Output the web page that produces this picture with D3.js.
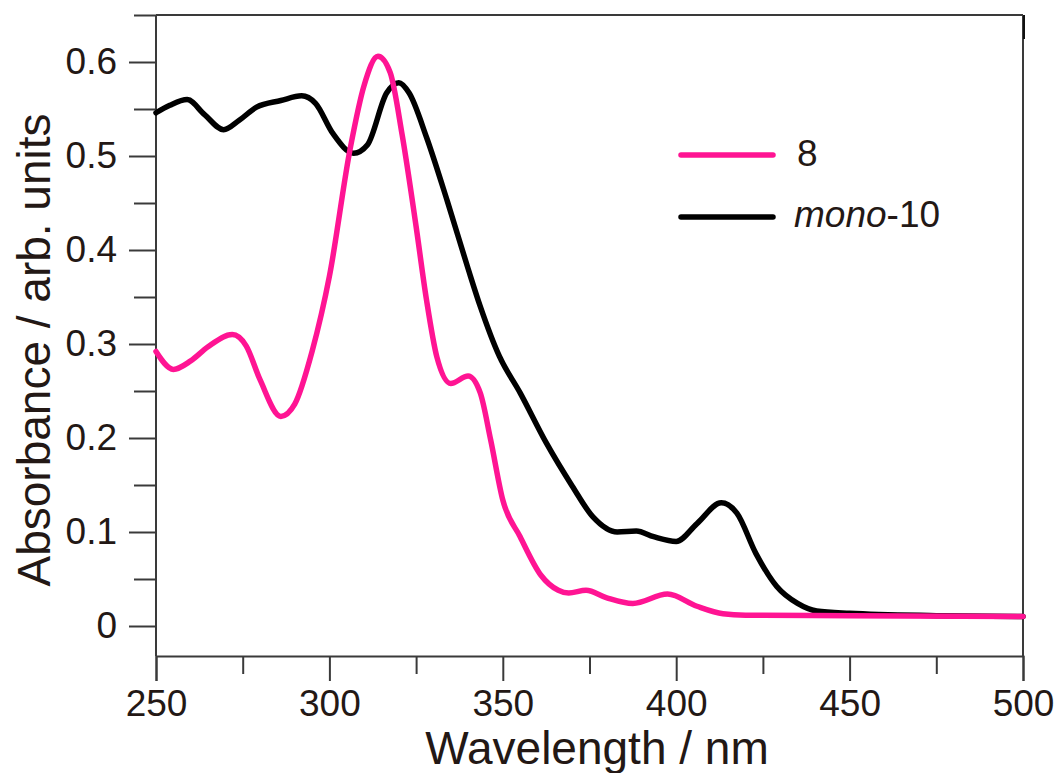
<!DOCTYPE html>
<html>
<head>
<meta charset="utf-8">
<script src="https://cdn.jsdelivr.net/npm/d3@7"></script>
<style>
  html, body { margin: 0; padding: 0; background: #fff; }
  svg { display: block; }
  text { font-family: "Liberation Sans", Arial, sans-serif; fill: #231815; }
</style>
</head>
<body>
<svg id="chart" width="1062" height="773"></svg>
<script>
// ---- Data ----
const seriesNames = ["8", "mono-10"];
const seriesColors = ["#ff1493", "#000000"];

const wl8 = [250, 255, 260, 265, 272, 276, 280, 286, 290, 295, 300, 306, 310, 314, 317.5, 321, 325, 328, 331, 335, 340, 343.5, 346.5, 350, 355, 361, 366, 369, 374, 380, 387.5, 397.5, 406, 413.5, 420, 450, 500];
const abs8 = [0.292, 0.273, 0.282, 0.297, 0.310, 0.298, 0.262, 0.223, 0.236, 0.292, 0.372, 0.508, 0.575, 0.606, 0.589, 0.522, 0.425, 0.347, 0.286, 0.258, 0.266, 0.248, 0.198, 0.134, 0.095, 0.054, 0.038, 0.035, 0.038, 0.030, 0.024, 0.034, 0.021, 0.013, 0.0115, 0.011, 0.010];

const wlMono = [250, 254, 259, 264, 269.5, 274, 279, 286, 292, 296, 301, 307, 311, 316.5, 320, 323, 328, 334, 340, 343.5, 349, 355, 362.5, 370, 376, 383, 388.5, 393.5, 400, 406, 413, 417.5, 423, 429, 435, 440.5, 450, 475, 500];
const absMono = [0.546, 0.554, 0.560, 0.544, 0.528, 0.538, 0.552, 0.559, 0.564, 0.556, 0.524, 0.503, 0.512, 0.567, 0.578, 0.567, 0.520, 0.452, 0.380, 0.340, 0.287, 0.248, 0.195, 0.149, 0.116, 0.100, 0.101, 0.095, 0.090, 0.109, 0.131, 0.120, 0.077, 0.042, 0.024, 0.016, 0.0135, 0.011, 0.010];

const xMajorTicks = [250, 300, 350, 400, 450, 500];
const xMinorTicks = [275, 325, 375, 425, 475];
const yMajorTicks = [0, 0.1, 0.2, 0.3, 0.4, 0.5, 0.6];
const yMinorTicks = [0.05, 0.15, 0.25, 0.35, 0.45, 0.55, 0.65];
const xTitle = "Wavelength / nm";
const yTitle = "Absorbance / arb. units";

(function () {
// ---- Layout ----
const svg = d3.select("#chart");
const pL = 156, pR = 1023, pT = 15, pB = 656;
const axisColor = "#3a3a3a";

const x = d3.scaleLinear().domain([250, 500]).range([pL, pR]);
const y = d3.scaleLinear().domain([0, 0.6]).range([626, 62]);

// frame (top + right)
svg.append("line").attr("x1", pL).attr("x2", pR).attr("y1", pT).attr("y2", pT)
  .attr("stroke", axisColor).attr("stroke-width", 2);
svg.append("line").attr("x1", pR).attr("x2", pR).attr("y1", pT).attr("y2", pB)
  .attr("stroke", axisColor).attr("stroke-width", 2);
svg.append("line").attr("x1", pR + 1).attr("x2", pR + 1).attr("y1", pT).attr("y2", pT + 24)
  .attr("stroke", "#111").attr("stroke-width", 2);

// bottom axis
const xAxis = d3.axisBottom(x).tickValues(xMajorTicks).tickSize(25).tickPadding(9)
  .tickFormat(d3.format("d"));
const gx = svg.append("g").attr("transform", `translate(0,${pB})`).call(xAxis);
gx.select(".domain").attr("stroke", axisColor).attr("stroke-width", 2);
gx.selectAll(".tick line").attr("stroke", axisColor).attr("stroke-width", 2);
gx.selectAll(".tick text").attr("font-size", 37).attr("font-family", "Liberation Sans, Arial, sans-serif").attr("fill", "#231815");
const xAxisMinor = d3.axisBottom(x).tickValues(xMinorTicks).tickSize(18).tickFormat("");
const gxm = svg.append("g").attr("transform", `translate(0,${pB})`).call(xAxisMinor);
gxm.select(".domain").remove();
gxm.selectAll(".tick line").attr("stroke", axisColor).attr("stroke-width", 2);

// left axis
const yAxis = d3.axisLeft(y).tickValues(yMajorTicks).tickSize(27).tickPadding(12)
  .tickFormat(d => d === 0 ? "0" : d3.format(".1f")(d));
const gy = svg.append("g").attr("transform", `translate(${pL},0)`).call(yAxis);
gy.select(".domain").remove();
gy.selectAll(".tick line").attr("stroke", axisColor).attr("stroke-width", 2);
gy.selectAll(".tick text").attr("font-size", 37).attr("font-family", "Liberation Sans, Arial, sans-serif").attr("fill", "#231815");
const yAxisMinor = d3.axisLeft(y).tickValues(yMinorTicks).tickSize(22).tickFormat("");
const gym = svg.append("g").attr("transform", `translate(${pL},0)`).call(yAxisMinor);
gym.select(".domain").remove();
gym.selectAll(".tick line").attr("stroke", axisColor).attr("stroke-width", 2);
svg.append("line").attr("x1", pL).attr("x2", pL).attr("y1", pT).attr("y2", pB)
  .attr("stroke", axisColor).attr("stroke-width", 2);

// curves
const line = d3.line().x(d => x(d[0])).y(d => y(d[1])).curve(d3.curveMonotoneX);
const data8 = wl8.map((w, i) => [w, abs8[i]]);
const dataMono = wlMono.map((w, i) => [w, absMono[i]]);

svg.append("path").datum(dataMono).attr("d", line)
  .attr("fill", "none").attr("stroke", seriesColors[1]).attr("stroke-width", 5.5)
  .attr("stroke-linecap", "round").attr("stroke-linejoin", "round");
svg.append("path").datum(data8).attr("d", line)
  .attr("fill", "none").attr("stroke", seriesColors[0]).attr("stroke-width", 5.5)
  .attr("stroke-linecap", "round").attr("stroke-linejoin", "round");

// legend
const legendY = [155, 217];
seriesNames.forEach((name, i) => {
  svg.append("line").attr("x1", 681).attr("x2", 773).attr("y1", legendY[i]).attr("y2", legendY[i])
    .attr("stroke", seriesColors[i]).attr("stroke-width", 5.5).attr("stroke-linecap", "round");
});
svg.append("text").attr("x", 797).attr("y", 166).attr("font-size", 37).text(seriesNames[0]);
const t2 = svg.append("text").attr("x", 794).attr("y", 227).attr("font-size", 37);
t2.append("tspan").attr("font-style", "italic").text("mono");
t2.append("tspan").text("-10");

// axis titles
svg.append("text").attr("x", 597).attr("y", 764).attr("text-anchor", "middle")
  .attr("font-size", 46).text(xTitle);
svg.append("text").attr("transform", "translate(50,350) rotate(-90)").attr("text-anchor", "middle")
  .attr("font-size", 46).text(yTitle);
})();
</script>
</body>
</html>
